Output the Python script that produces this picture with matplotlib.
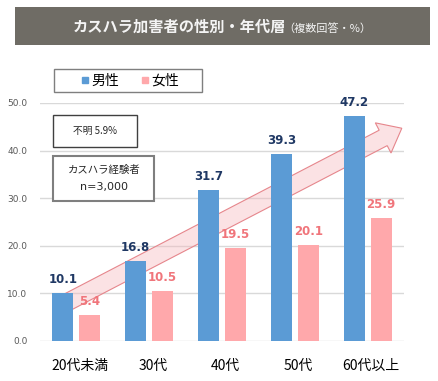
import numpy as np
import matplotlib
matplotlib.use("Agg")
import matplotlib.pyplot as plt
from matplotlib.patches import Rectangle, Polygon
from matplotlib.lines import Line2D
from matplotlib.transforms import IdentityTransform

plt.rcParams['font.family'] = ['Noto Sans CJK JP', 'DejaVu Sans']

categories = ["20代未満", "30代", "40代", "50代", "60代以上"]
male = [10.1, 16.8, 31.7, 39.3, 47.2]
female = [5.4, 10.5, 19.5, 20.1, 25.9]
yticks = [0, 10, 20, 30, 40, 50]
series_names = ["男性", "女性"]
title_main = "カスハラ加害者の性別・年代層"
title_sub = "（複数回答・%）"
note_unknown = "不明 5.9%"
note_sample = "カスハラ経験者\nn=3,000"

BLUE = "#5b9bd5"
PINK = "#ffa8ab"
BLUE_TXT = "#1f3864"
PINK_TXT = "#f0757b"

W, H = 438, 381
fig = plt.figure(figsize=(W / 100, H / 100), dpi=100)
fig.patch.set_facecolor("white")

def fx(x):
    return x / W

def fy(y):
    return 1 - y / H

# Title banner
fig.patches.append(Rectangle((fx(15), fy(45)), fx(430) - fx(15), (45 - 7) / H,
                             transform=fig.transFigure, facecolor="#6f6c65",
                             edgecolor="none", zorder=0))
fig.text(fx(73), fy(27), title_main, color="#f4f4f4", fontsize=11,
         fontweight="bold", ha="left", va="center")
fig.text(fx(283), fy(28), title_sub, color="#f4f4f4", fontsize=8,
         ha="left", va="center")

ax = fig.add_axes([fx(40), fy(341), (404 - 40) / W, (341 - 103) / H])
x = np.arange(len(categories))
bw = 0.29
off = 0.185
ax.bar(x - off, male, bw, color=BLUE, zorder=3)
ax.bar(x + off, female, bw, color=PINK, zorder=3)

for xi, v in zip(x, male):
    ax.annotate(f"{v:.1f}", (xi - off, v), xytext=(0, 5), textcoords="offset points",
                ha="center", va="bottom", fontsize=8.5, fontweight="bold",
                color=BLUE_TXT, family="DejaVu Sans", zorder=5, annotation_clip=False)
for xi, v in zip(x, female):
    ax.annotate(f"{v:.1f}", (xi + off, v), xytext=(0, 5), textcoords="offset points",
                ha="center", va="bottom", fontsize=8.5, fontweight="bold",
                color=PINK_TXT, family="DejaVu Sans", zorder=5, annotation_clip=False)

ax.set_xlim(-0.5, len(categories) - 0.5)
ax.set_ylim(0, 50)
ax.set_yticks(yticks)
ax.set_yticklabels([f"{t:.1f}" for t in yticks], fontsize=6.5, color="#595959",
                   family="DejaVu Sans")
ax.set_xticks(x + 0.05)
ax.set_xticklabels(categories, fontsize=10, color="black")
ax.tick_params(axis="both", length=0)
ax.tick_params(axis="y", pad=9)
ax.tick_params(axis="x", pad=13)
for s in ax.spines.values():
    s.set_visible(False)
ax.grid(axis="y", color="#d9d9d9", linewidth=1, zorder=0)
ax.set_axisbelow(True)

# Trend arrow (data coordinates -> display)
tail = ax.transData.transform((-0.225, 7.35))
tip = ax.transData.transform((4.47, 44.7))
u = (tip - tail) / np.linalg.norm(tip - tail)
n = np.array([-u[1], u[0]])
w, hw, hl = 8.7, 17.0, 21.0
base = tip - hl * u
pts = [tail + w * n, base + w * n, base + hw * n, tip,
       base - hw * n, base - w * n, tail - w * n]
arrow = Polygon(pts, closed=True, transform=IdentityTransform(),
                facecolor=(0.96, 0.72, 0.74, 0.4), edgecolor="#e6868c",
                linewidth=0.8, zorder=2, clip_on=False)
ax.add_patch(arrow)

# Legend
fig.patches.append(Rectangle((fx(54), fy(92)), (202 - 54) / W, (92 - 69) / H,
                             transform=fig.transFigure, facecolor="white",
                             edgecolor="#7f7f7f", linewidth=1.0, zorder=4))
handles = [Line2D([], [], marker="s", linestyle="none", markersize=4.5,
                  color=BLUE),
           Line2D([], [], marker="s", linestyle="none", markersize=4.5,
                  color=PINK)]
leg = fig.legend(handles, series_names, loc="center",
                 bbox_to_anchor=(fx(130), fy(80.5)), ncol=2, fontsize=10,
                 frameon=False, handlelength=0.6, handletextpad=0.15,
                 columnspacing=1.6, borderpad=0.1, borderaxespad=0)
leg.set_zorder(6)

# Note boxes
fig.patches.append(Rectangle((fx(53), fy(147)), (137 - 53) / W, (147 - 115) / H,
                             transform=fig.transFigure, facecolor="white",
                             edgecolor="#404040", linewidth=1.0, zorder=5))
fig.text(fx(95), fy(131), note_unknown, fontsize=7, ha="center", va="center",
         color="#262626", zorder=6)
fig.patches.append(Rectangle((fx(53), fy(201)), (154 - 53) / W, (201 - 156) / H,
                             transform=fig.transFigure, facecolor="white",
                             edgecolor="#7f7f7f", linewidth=1.5, zorder=5))
l1, l2 = note_sample.split("\n")
fig.text(fx(104), fy(170), l1, fontsize=7.5, ha="center", va="center",
         color="#262626", zorder=6)
fig.text(fx(104), fy(187), l2, fontsize=8, ha="center", va="center",
         color="#262626", family="DejaVu Sans", zorder=6)

fig.savefig("out.png", dpi=100, facecolor="white")
